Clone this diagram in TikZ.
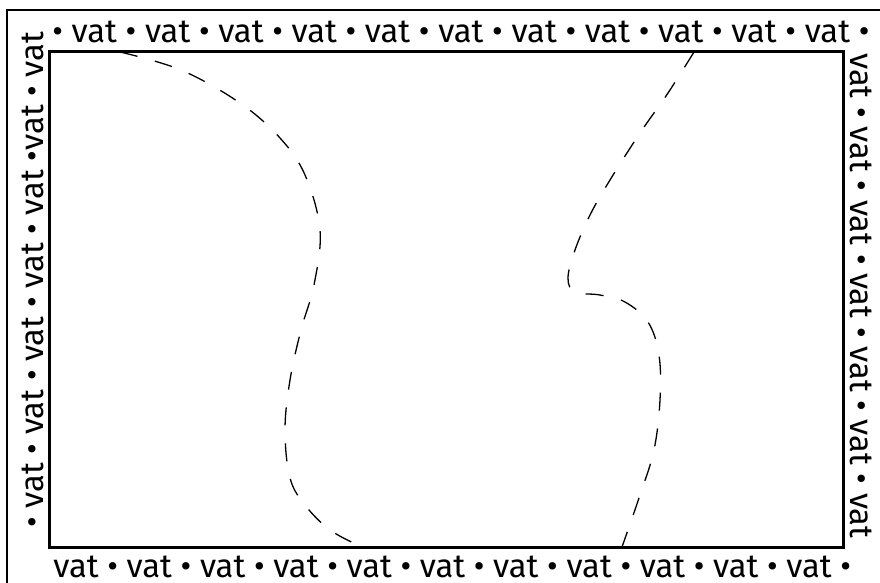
\documentclass[tikz,border=0pt]{standalone}
\usepackage{fontspec}
\setmainfont{Fira Sans}
\tikzset{
  vatline/.style={dash pattern=on 9pt off 9pt, line width=0.65pt},
  vattext/.style={inner sep=0pt, font=\fontsize{16.4}{20}\selectfont},
}
\begin{document}
\begin{tikzpicture}[x=0.5pt, y=-0.5pt]
    \useasboundingbox (0,0) rectangle (880,583);
    \clip (0,0) rectangle (880,583);
    % the two dashed borders
    \draw[vatline] plot[smooth, tension=0.6] coordinates {(120,52) (181,70) (240,103) (280,138) (305,175) (320,230) (314,285) (301,330) (290,380) (285,430) (290,478) (305,505) (330,530) (362,547)};
    \draw[vatline] plot[smooth, tension=0.6] coordinates {(694,52) (668,93) (640,133) (610,180) (590,215) (575,250) (568,278) (575,292) (600,295) (625,302) (648,322) (659,355) (660,400) (654,450) (640,495) (622,547)};
    % frames
    \draw[line width=1.3pt] (7,10) rectangle (900,600);
    \draw[line width=1.5pt] (49,52) rectangle (843,547);
    % the text round the frame
    \node[vattext, anchor=base west] (top) at (52,43) {• vat • vat • vat • vat • vat • vat • vat • vat • vat • vat • vat •};
    \node[vattext, anchor=base west] (bottom) at (53,577) {vat • vat • vat • vat • vat • vat • vat • vat • vat • vat • vat •};
    \node[vattext, anchor=base west, rotate=90] (left) at (43,528) {• vat • vat • vat • vat • vat •vat • vat};
    \node[vattext, anchor=base west, rotate=-90] (right) at (850,53) {vat • vat • vat • vat • vat • vat • vat};
\end{tikzpicture}
\end{document}
